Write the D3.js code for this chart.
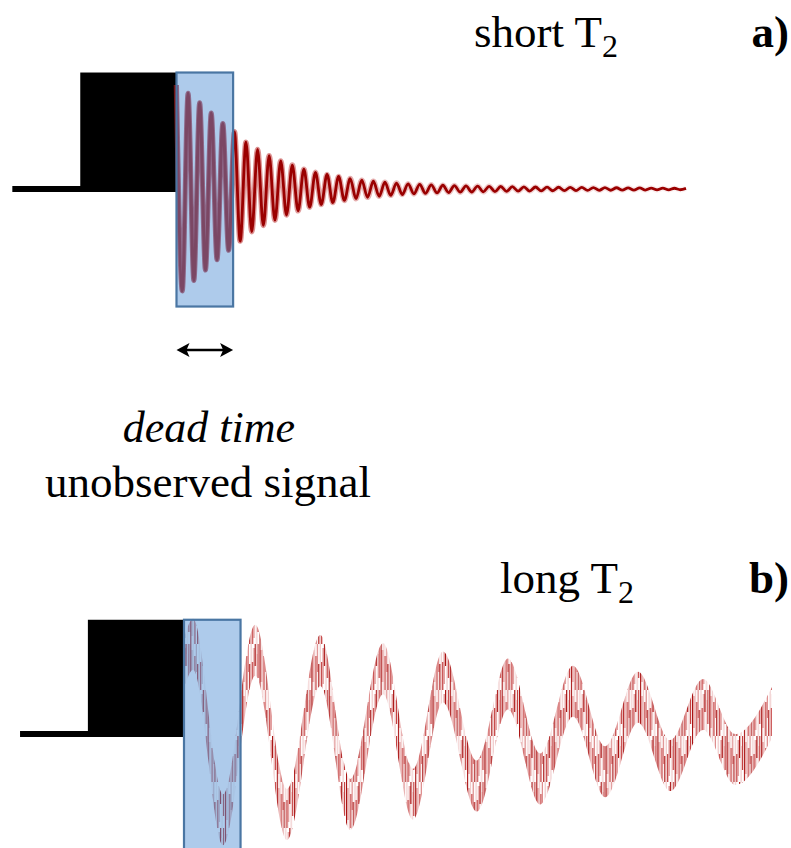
<!DOCTYPE html>
<html>
<head>
<meta charset="utf-8">
<script src="https://cdn.jsdelivr.net/npm/d3@7/dist/d3.min.js"></script>
<style>
  body { margin: 0; background: #fff; }
</style>
</head>
<body>
<svg width="791" height="848"></svg>
<script>
// times in us, 0 = end of the pulse
var baselineStart = -29;
var pulseStart = -17;
var deadTime = 10;
var pulseHeight = 1.12;

// a) short T2 : one extremum per half cycle, a.u.
var shortT2End = 90;
var shortT2 = [1.00, -0.98, 0.92, -0.88, 0.83, -0.78, 0.73, -0.68, 0.63, -0.59,
  0.55, -0.50, 0.45, -0.41, 0.38, -0.35, 0.32, -0.30, 0.27, -0.25,
  0.23, -0.21, 0.19, -0.175, 0.16, -0.15, 0.14, -0.13, 0.12, -0.11,
  0.10, -0.093, 0.085, -0.080, 0.075, -0.070, 0.065, -0.061, 0.057, -0.053,
  0.050, -0.047, 0.045, -0.042, 0.040, -0.038, 0.036, -0.034, 0.033, -0.031,
  0.030, -0.029, 0.028, -0.027, 0.026, -0.025, 0.024, -0.023, 0.022, -0.021,
  0.020, -0.020, 0.019, -0.018, 0.018, -0.017, 0.017, -0.016, 0.016, -0.015,
  0.015, -0.014, 0.014, -0.013, 0.013, -0.012, 0.012, -0.011, 0.011, -0.010,
  0.010, -0.010, 0.009, -0.009, 0.008, -0.008, 0.007, -0.007, 0.006];

// b) long T2 : extrema of the slow wave, plus its noise band
var longT2Time = [0, 1.6, 6.9, 12.6, 18.2, 24.1, 29.4, 35.2, 40.5, 45.8,
  51.8, 57.3, 63.0, 68.8, 74.5, 80.3, 86.0, 91.8, 97.5, 104];
var longT2 = [0.69, 0.88, -0.84, 0.82, -0.79, 0.72, -0.69, 0.64, -0.59, 0.56,
  -0.51, 0.49, -0.44, 0.42, -0.37, 0.36, -0.31, 0.29, -0.25, 0.21];
var longT2Noise = 0.25;

var serif = '"Liberation Serif", "Times New Roman", Times, serif';

var svg = d3.select('svg');
var defs = svg.append('defs');

var xA = d3.scaleLinear().domain([0, shortT2End]).range([176.5, 686]);
var yA = d3.scaleLinear().domain([-1, 1]).range([293, 85]);
var xB = d3.scaleLinear().domain([0, 104]).range([184, 772]);
var yB = d3.scaleLinear().domain([-1, 1]).range([836, 632]);

var shortTime = shortT2.map(function(d, i) { return i * shortT2End / (shortT2.length - 1); });

// halo fading along panel a
var grad = defs.append('linearGradient')
    .attr('id', 'halo')
    .attr('gradientUnits', 'userSpaceOnUse')
    .attr('x1', xA(0)).attr('x2', xA(shortT2End)).attr('y1', 0).attr('y2', 0);
grad.append('stop').attr('offset', 0).attr('stop-color', '#b82020').attr('stop-opacity', 0.6);
grad.append('stop').attr('offset', 0.45).attr('stop-color', '#b82020').attr('stop-opacity', 0.3);
grad.append('stop').attr('offset', 1).attr('stop-color', '#b82020').attr('stop-opacity', 0.05);

// vertical hairline texture for the noisy long T2 signal
var hatch = [[0.5, 0, 46, 0], [1.9, 6, 38, 2], [3.3, 0, 46, 3], [4.7, 12, 46, 1],
  [6.1, 0, 28, 2], [7.5, 20, 46, 0], [8.9, 0, 46, 3], [10.3, 18, 46, 1],
  [11.7, 4, 40, 2], [13.1, 0, 22, 0], [14.5, 10, 46, 3], [15.9, 0, 34, 1]];
var makeHatch = function(id, shades) {
  var p = defs.append('pattern')
      .attr('id', id)
      .attr('patternUnits', 'userSpaceOnUse')
      .attr('width', 17.3).attr('height', 46);
  p.selectAll('line').data(hatch).enter().append('line')
      .attr('x1', function(d) { return d[0]; })
      .attr('x2', function(d) { return d[0]; })
      .attr('y1', function(d) { return d[1]; })
      .attr('y2', function(d) { return d[2]; })
      .attr('stroke', function(d) { return shades[d[3]]; })
      .attr('stroke-width', 1.2);
}
makeHatch('hatchRed', ['#a81010', '#c23a3a', '#dc8686', '#f0c8c8']);
makeHatch('hatchBox', ['#7b4764', '#86607e', '#96a0c0', '#a6bfdf']);

var drawPulse = function(g, x, y) {
  g.append('line')
      .attr('x1', x(baselineStart)).attr('x2', x(0))
      .attr('y1', y(0)).attr('y2', y(0))
      .attr('stroke', '#000').attr('stroke-width', 6);
  g.append('rect')
      .attr('x', x(pulseStart))
      .attr('y', y(pulseHeight))
      .attr('width', x(0) - x(pulseStart))
      .attr('height', y(0) + 3 - y(pulseHeight))
      .attr('fill', '#000');
}

var boxClip = function(id, x, y, lo) {
  defs.append('clipPath').attr('id', id).append('rect')
      .attr('x', x(0)).attr('y', y(pulseHeight))
      .attr('width', x(deadTime) - x(0))
      .attr('height', y(lo) - y(pulseHeight));
}
var boxRect = function(g, x, y, lo) {
  return g.append('rect')
      .attr('x', x(0)).attr('y', y(pulseHeight))
      .attr('width', x(deadTime) - x(0))
      .attr('height', y(lo) - y(pulseHeight));
}

// ---- panel a
var gA = svg.append('g');
drawPulse(gA, xA, yA);

var lineA = d3.line()
    .x(function(d, i) { return xA(shortTime[i]); })
    .y(function(d) { return yA(d); })
    .curve(d3.curveMonotoneX);

gA.append('path').attr('d', lineA(shortT2))
    .attr('fill', 'none').attr('stroke', 'url(#halo)').attr('stroke-width', 5.5);
gA.append('path').attr('d', lineA(shortT2))
    .attr('fill', 'none').attr('stroke', '#9a0000').attr('stroke-width', 2.8);

boxClip('clipA', xA, yA, -1.13);
boxRect(gA, xA, yA, -1.13).attr('fill', '#aecbeb');
gA.append('path').attr('d', lineA(shortT2))
    .attr('clip-path', 'url(#clipA)')
    .attr('fill', 'none').attr('stroke', '#8e6a8a').attr('stroke-width', 5);
gA.append('path').attr('d', lineA(shortT2))
    .attr('clip-path', 'url(#clipA)')
    .attr('fill', 'none').attr('stroke', '#7b4764').attr('stroke-width', 3);
boxRect(gA, xA, yA, -1.13).attr('fill', 'none')
    .attr('stroke', '#4a76a3').attr('stroke-width', 2.2);

// dead time arrow
var arrowY = 350;
gA.append('line')
    .attr('x1', xA(0) + 8).attr('x2', xA(deadTime) - 8)
    .attr('y1', arrowY).attr('y2', arrowY)
    .attr('stroke', '#000').attr('stroke-width', 2.6);
gA.selectAll('.head').data([[0, 1], [deadTime, -1]]).enter().append('path')
    .attr('class', 'head')
    .attr('d', function(d) {
      var x0 = xA(d[0]), s = d[1];
      return 'M' + x0 + ',' + arrowY + 'L' + (x0 + s * 13) + ',' + (arrowY - 7) +
             'L' + (x0 + s * 10) + ',' + arrowY + 'L' + (x0 + s * 13) + ',' + (arrowY + 7) + 'Z';
    })
    .attr('fill', '#000');

// ---- panel b
var gB = svg.append('g');
drawPulse(gB, xB, yB);

var areaB = d3.area()
    .x(function(d, i) { return xB(longT2Time[i]); })
    .y0(function(d) { return yB(d - longT2Noise); })
    .y1(function(d) { return yB(d + longT2Noise); })
    .curve(d3.curveMonotoneX);

gB.append('path').attr('d', areaB(longT2)).attr('fill', 'url(#hatchRed)');

boxClip('clipB', xB, yB, -1.2);
boxRect(gB, xB, yB, -1.2).attr('fill', '#aecbeb');
gB.append('path').attr('d', areaB(longT2))
    .attr('clip-path', 'url(#clipB)')
    .attr('fill', 'url(#hatchBox)');
boxRect(gB, xB, yB, -1.2).attr('fill', 'none')
    .attr('stroke', '#4a76a3').attr('stroke-width', 2.2);

// ---- labels
var title = function(x, y, label) {
  var t = svg.append('text').attr('x', x).attr('y', y)
      .attr('font-family', serif)
      .attr('font-size', 45).attr('fill', '#000');
  t.append('tspan').text(label + ' T');
  t.append('tspan').attr('font-size', 32).attr('dy', 10).text('2');
}
title(474, 47, 'short');
title(500, 593, 'long');

svg.append('text').attr('x', 789).attr('y', 47)
    .attr('text-anchor', 'end').attr('font-family', serif)
    .attr('font-size', 45).attr('font-weight', 'bold').text('a)');
svg.append('text').attr('x', 789).attr('y', 593)
    .attr('text-anchor', 'end').attr('font-family', serif)
    .attr('font-size', 45).attr('font-weight', 'bold').text('b)');

svg.append('text').attr('x', 209).attr('y', 442)
    .attr('text-anchor', 'middle').attr('font-family', serif).attr('font-size', 44)
    .attr('font-style', 'italic').text('dead time');
svg.append('text').attr('x', 208).attr('y', 497)
    .attr('text-anchor', 'middle').attr('font-family', serif).attr('font-size', 45)
    .text('unobserved signal');
</script>
</body>
</html>
